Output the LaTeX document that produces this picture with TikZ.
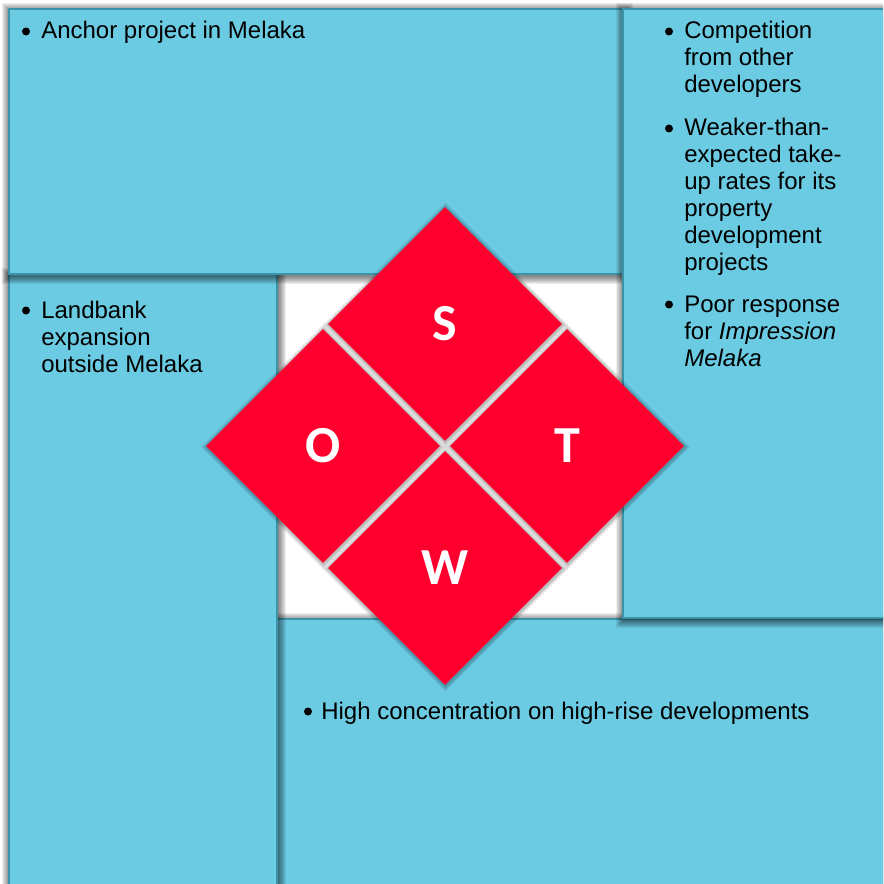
\documentclass[tikz,border=0pt]{standalone}
\usepackage{fontspec}
\setmainfont{Liberation Sans}
\newfontfamily\lettersfont{Carlito}
\usetikzlibrary{shapes.geometric}

\definecolor{panelblue}{HTML}{6BCBE3}
\definecolor{paneledge}{HTML}{3B93A8}
\definecolor{swotred}{HTML}{FF002E}

\tikzset{
  panel/.style={fill=panelblue, draw=paneledge, line width=0.8pt},
  itemtext/.style={anchor=base west, inner sep=0pt, text=black,
    font=\fontsize{18}{20.25}\selectfont},
  bulletdot/.style={circle, fill=black, inner sep=0pt, minimum size=6pt},
  quad/.style={diamond, aspect=1, inner sep=0pt, minimum size=175.5pt,
    fill=swotred, text=white, font=\lettersfont\bfseries\fontsize{39}{39}\selectfont},
}

% a panel with a soft shadow all round it
\newcommand\swotpanel[4]{%
  \foreach \s in {1,...,8}{%
    \fill[black, opacity=0.07] (#1-\s+1,#2-\s+2) rectangle (#3+\s+1,#4+\s+2);}
  \path[panel] (#1,#2) rectangle (#3,#4);
}
% soft shadow behind one of the red squares
\newcommand\quadshadow[2]{%
  \foreach \s in {1.4,2.8,4.2,5.6}{%
    \fill[black, opacity=0.07]
      (#1+0.5,#2+1-117-\s) -- (#1+0.5+117+\s,#2+1) -- (#1+0.5,#2+1+117+\s)
      -- (#1+0.5-117-\s,#2+1) -- cycle;}
}

\begin{document}
\begin{tikzpicture}[x=0.75pt, y=-0.75pt]
  \useasboundingbox (0,0) rectangle (883,884);
  \clip (0,0) rectangle (883,884);
  \fill[white] (0,0) rectangle (883,884);

  % four panels, stacked like a pinwheel
  \swotpanel{277}{619}{900}{900}
  \swotpanel{9}{274}{277}{900}
  \swotpanel{9}{9}{624}{274}
  \swotpanel{623}{9}{900}{618}

  % the SWOT diamond
  \quadshadow{445}{324}
  \quadshadow{323}{446}
  \quadshadow{567}{446}
  \quadshadow{445}{568}
  \node[quad] (S) at (445,324) {S};
  \node[quad] (O) at (323,446) {O};
  \node[quad] (T) at (567,446) {T};
  \node[quad] (W) at (445,568) {W};

  % strengths
  \node[bulletdot] (sb1) at (26,31.5) {};
  \node[itemtext] (s1) at (41,39) {Anchor project in Melaka};

  % opportunities
  \node[bulletdot] (ob1) at (26,310.5) {};
  \node[itemtext] (o1) at (41,318) {\parbox[t]{230pt}{Landbank\\expansion\\outside Melaka}};

  % threats
  \node[bulletdot] (tb1) at (669,31.5) {};
  \node[itemtext] (t1) at (684,39) {\parbox[t]{150pt}{Competition\\from other\\developers}};
  \node[bulletdot] (tb2) at (669,128.5) {};
  \node[itemtext] (t2) at (684,136) {\parbox[t]{150pt}{Weaker-than-\\expected take-\\up rates for its\\property\\development\\projects}};
  \node[bulletdot] (tb3) at (669,304.5) {};
  \node[itemtext] (t3) at (684,312) {\parbox[t]{150pt}{Poor response\\for \textit{Impression}\\\textit{Melaka}}};

  % weaknesses
  \node[bulletdot] (wb1) at (308,711.5) {};
  \node[itemtext] (w1) at (321,719) {High concentration on high-rise developments};
\end{tikzpicture}
\end{document}
